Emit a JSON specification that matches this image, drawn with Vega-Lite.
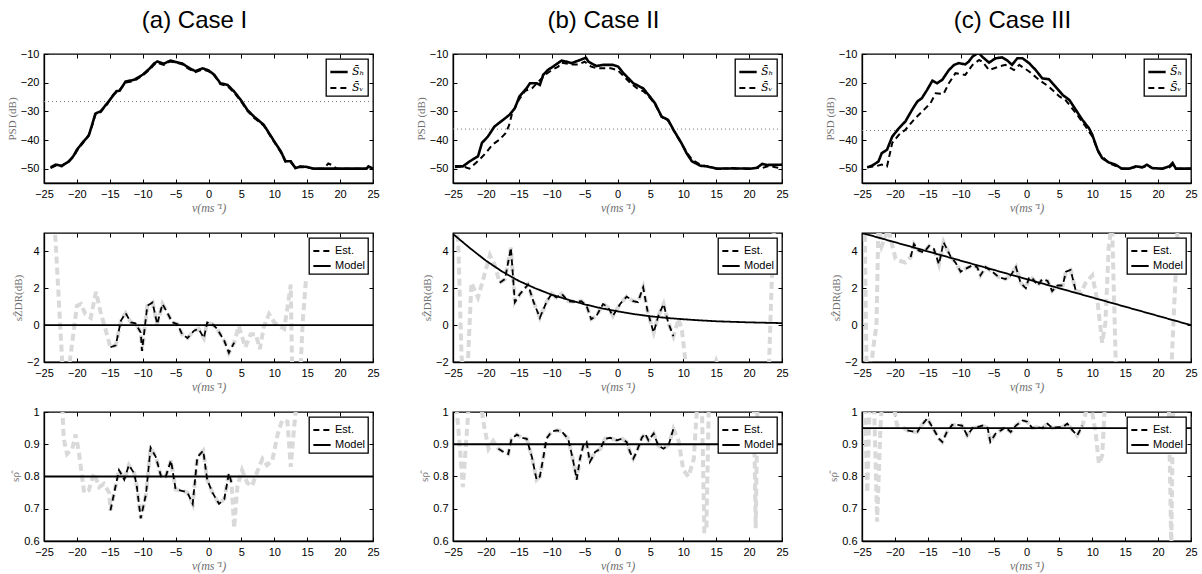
{
"$schema":"https://vega.github.io/schema/vega-lite/v6.json",
"background":"white",
"padding":{"left":5,"top":8,"right":5,"bottom":2},
"columns":3,
"spacing":{"row":50,"column":80},
"bounds":"flush",
"resolve":{"scale":{"strokeDash":"independent","strokeWidth":"independent"},"legend":{"strokeDash":"independent","strokeWidth":"independent"}},
"concat":[
{"width":329,"height":129,"title":{"text":"(a) Case I"},"data":{"name":"ta"},"resolve":{"axis":{"x":"independent","y":"independent"}},
"layer":[
{"transform":[{"filter":"datum.s=='T'"}],"mark":{"type":"rule","color":"#777","strokeWidth":1,"strokeDash":[1,3]},
"encoding":{"y":{"field":"y","type":"quantitative","scale":{"domain":[-55,-10],"nice":false,"zero":false},"axis":{"values":[-50,-40,-30,-20,-10],"title":"PSD (dB)"}}}},
{"transform":[{"filter":"datum.s!='T'"}],"mark":{"type":"line","clip":true,"color":"black"},
"encoding":{"x":{"field":"v","type":"quantitative","scale":{"domain":[-25,25],"nice":false,"zero":false},"axis":{"values":[-25,-20,-15,-10,-5,0,5,10,15,20,25],"title":"v(ms⁻¹)"}},
"y":{"field":"y","type":"quantitative","axis":null},
"strokeDash":{"field":"s","type":"nominal","scale":{"domain":["H","V"],"range":[[1,0],[6,4]]},"legend":{"title":null,"labelExpr":"datum.label=='H'?'S̄ₕ':'S̄ᵥ'","labelFont":"DejaVu Serif","labelFontStyle":"italic","labelFontSize":11}},
"strokeWidth":{"field":"s","type":"nominal","scale":{"domain":["H","V"],"range":[2.6,2]},"legend":null}}},
{"transform":[{"filter":"datum.s!='T'"}],"mark":{"type":"line","opacity":0},
"encoding":{"x":{"field":"v","type":"quantitative","axis":{"orient":"top","values":[-25,-20,-15,-10,-5,0,5,10,15,20,25],"labels":false,"domain":false,"title":null}},
"y":{"field":"y","type":"quantitative","axis":{"orient":"right","values":[-50,-40,-30,-20,-10],"labels":false,"domain":false,"title":null}}}}]},
{"width":329,"height":129,"title":{"text":"(b) Case II"},"data":{"name":"tb"},"resolve":{"axis":{"x":"independent","y":"independent"}},
"layer":[
{"transform":[{"filter":"datum.s=='T'"}],"mark":{"type":"rule","color":"#777","strokeWidth":1,"strokeDash":[1,3]},
"encoding":{"y":{"field":"y","type":"quantitative","scale":{"domain":[-55,-10],"nice":false,"zero":false},"axis":{"values":[-50,-40,-30,-20,-10],"title":"PSD (dB)"}}}},
{"transform":[{"filter":"datum.s!='T'"}],"mark":{"type":"line","clip":true,"color":"black"},
"encoding":{"x":{"field":"v","type":"quantitative","scale":{"domain":[-25,25],"nice":false,"zero":false},"axis":{"values":[-25,-20,-15,-10,-5,0,5,10,15,20,25],"title":"v(ms⁻¹)"}},
"y":{"field":"y","type":"quantitative","axis":null},
"strokeDash":{"field":"s","type":"nominal","scale":{"domain":["H","V"],"range":[[1,0],[6,4]]},"legend":{"title":null,"labelExpr":"datum.label=='H'?'S̄ₕ':'S̄ᵥ'","labelFont":"DejaVu Serif","labelFontStyle":"italic","labelFontSize":11}},
"strokeWidth":{"field":"s","type":"nominal","scale":{"domain":["H","V"],"range":[2.6,2]},"legend":null}}},
{"transform":[{"filter":"datum.s!='T'"}],"mark":{"type":"line","opacity":0},
"encoding":{"x":{"field":"v","type":"quantitative","axis":{"orient":"top","values":[-25,-20,-15,-10,-5,0,5,10,15,20,25],"labels":false,"domain":false,"title":null}},
"y":{"field":"y","type":"quantitative","axis":{"orient":"right","values":[-50,-40,-30,-20,-10],"labels":false,"domain":false,"title":null}}}}]},
{"width":329,"height":129,"title":{"text":"(c) Case III"},"data":{"name":"tc"},"resolve":{"axis":{"x":"independent","y":"independent"}},
"layer":[
{"transform":[{"filter":"datum.s=='T'"}],"mark":{"type":"rule","color":"#777","strokeWidth":1,"strokeDash":[1,3]},
"encoding":{"y":{"field":"y","type":"quantitative","scale":{"domain":[-55,-10],"nice":false,"zero":false},"axis":{"values":[-50,-40,-30,-20,-10],"title":"PSD (dB)"}}}},
{"transform":[{"filter":"datum.s!='T'"}],"mark":{"type":"line","clip":true,"color":"black"},
"encoding":{"x":{"field":"v","type":"quantitative","scale":{"domain":[-25,25],"nice":false,"zero":false},"axis":{"values":[-25,-20,-15,-10,-5,0,5,10,15,20,25],"title":"v(ms⁻¹)"}},
"y":{"field":"y","type":"quantitative","axis":null},
"strokeDash":{"field":"s","type":"nominal","scale":{"domain":["H","V"],"range":[[1,0],[6,4]]},"legend":{"title":null,"labelExpr":"datum.label=='H'?'S̄ₕ':'S̄ᵥ'","labelFont":"DejaVu Serif","labelFontStyle":"italic","labelFontSize":11}},
"strokeWidth":{"field":"s","type":"nominal","scale":{"domain":["H","V"],"range":[2.6,2]},"legend":null}}},
{"transform":[{"filter":"datum.s!='T'"}],"mark":{"type":"line","opacity":0},
"encoding":{"x":{"field":"v","type":"quantitative","axis":{"orient":"top","values":[-25,-20,-15,-10,-5,0,5,10,15,20,25],"labels":false,"domain":false,"title":null}},
"y":{"field":"y","type":"quantitative","axis":{"orient":"right","values":[-50,-40,-30,-20,-10],"labels":false,"domain":false,"title":null}}}}]},
{"width":329,"height":129,"data":{"name":"ma"},"resolve":{"axis":{"x":"independent","y":"independent"}},
"layer":[
{"transform":[{"filter":"datum.s!='M'"}],"mark":{"type":"line","clip":true,"color":"#d9d9d9","strokeWidth":4,"strokeDash":[7,4]},
"encoding":{"x":{"field":"v","type":"quantitative","scale":{"domain":[-25,25],"nice":false,"zero":false},"axis":{"values":[-25,-20,-15,-10,-5,0,5,10,15,20,25],"title":"v(ms⁻¹)"}},
"y":{"field":"y","type":"quantitative","scale":{"domain":[-2,5],"nice":false,"zero":false},"axis":{"values":[-2,0,2,4],"title":"sẐDR(dB)"}}}},
{"transform":[{"filter":"datum.s!='G'"}],"mark":{"type":"line","clip":true,"color":"black","strokeWidth":1.8},
"encoding":{"x":{"field":"v","type":"quantitative","axis":null},"y":{"field":"y","type":"quantitative","axis":null},
"strokeDash":{"field":"s","type":"nominal","scale":{"domain":["E","M"],"range":[[6,4],[1,0]]},"legend":{"title":null,"labelExpr":"datum.label=='E'?'Est.':'Model'"}}}},
{"transform":[{"filter":"datum.s!='G'"}],"mark":{"type":"line","opacity":0},
"encoding":{"x":{"field":"v","type":"quantitative","axis":{"orient":"top","values":[-25,-20,-15,-10,-5,0,5,10,15,20,25],"labels":false,"domain":false,"title":null}},
"y":{"field":"y","type":"quantitative","axis":{"orient":"right","values":[-2,0,2,4],"labels":false,"domain":false,"title":null}}}}]},
{"width":329,"height":129,"data":{"name":"mb"},"resolve":{"axis":{"x":"independent","y":"independent"}},
"layer":[
{"transform":[{"filter":"datum.s!='M'"}],"mark":{"type":"line","clip":true,"color":"#d9d9d9","strokeWidth":4,"strokeDash":[7,4]},
"encoding":{"x":{"field":"v","type":"quantitative","scale":{"domain":[-25,25],"nice":false,"zero":false},"axis":{"values":[-25,-20,-15,-10,-5,0,5,10,15,20,25],"title":"v(ms⁻¹)"}},
"y":{"field":"y","type":"quantitative","scale":{"domain":[-2,5],"nice":false,"zero":false},"axis":{"values":[-2,0,2,4],"title":"sẐDR(dB)"}}}},
{"transform":[{"filter":"datum.s!='G'"}],"mark":{"type":"line","clip":true,"color":"black","strokeWidth":1.8},
"encoding":{"x":{"field":"v","type":"quantitative","axis":null},"y":{"field":"y","type":"quantitative","axis":null},
"strokeDash":{"field":"s","type":"nominal","scale":{"domain":["E","M"],"range":[[6,4],[1,0]]},"legend":{"title":null,"labelExpr":"datum.label=='E'?'Est.':'Model'"}}}},
{"transform":[{"filter":"datum.s!='G'"}],"mark":{"type":"line","opacity":0},
"encoding":{"x":{"field":"v","type":"quantitative","axis":{"orient":"top","values":[-25,-20,-15,-10,-5,0,5,10,15,20,25],"labels":false,"domain":false,"title":null}},
"y":{"field":"y","type":"quantitative","axis":{"orient":"right","values":[-2,0,2,4],"labels":false,"domain":false,"title":null}}}}]},
{"width":329,"height":129,"data":{"name":"mc"},"resolve":{"axis":{"x":"independent","y":"independent"}},
"layer":[
{"transform":[{"filter":"datum.s!='M'"}],"mark":{"type":"line","clip":true,"color":"#d9d9d9","strokeWidth":4,"strokeDash":[7,4]},
"encoding":{"x":{"field":"v","type":"quantitative","scale":{"domain":[-25,25],"nice":false,"zero":false},"axis":{"values":[-25,-20,-15,-10,-5,0,5,10,15,20,25],"title":"v(ms⁻¹)"}},
"y":{"field":"y","type":"quantitative","scale":{"domain":[-2,5],"nice":false,"zero":false},"axis":{"values":[-2,0,2,4],"title":"sẐDR(dB)"}}}},
{"transform":[{"filter":"datum.s!='G'"}],"mark":{"type":"line","clip":true,"color":"black","strokeWidth":1.8},
"encoding":{"x":{"field":"v","type":"quantitative","axis":null},"y":{"field":"y","type":"quantitative","axis":null},
"strokeDash":{"field":"s","type":"nominal","scale":{"domain":["E","M"],"range":[[6,4],[1,0]]},"legend":{"title":null,"labelExpr":"datum.label=='E'?'Est.':'Model'"}}}},
{"transform":[{"filter":"datum.s!='G'"}],"mark":{"type":"line","opacity":0},
"encoding":{"x":{"field":"v","type":"quantitative","axis":{"orient":"top","values":[-25,-20,-15,-10,-5,0,5,10,15,20,25],"labels":false,"domain":false,"title":null}},
"y":{"field":"y","type":"quantitative","axis":{"orient":"right","values":[-2,0,2,4],"labels":false,"domain":false,"title":null}}}}]},
{"width":329,"height":129,"data":{"name":"ba"},"resolve":{"axis":{"x":"independent","y":"independent"}},
"layer":[
{"transform":[{"filter":"datum.s!='M'"}],"mark":{"type":"line","clip":true,"color":"#d9d9d9","strokeWidth":4,"strokeDash":[7,4]},
"encoding":{"x":{"field":"v","type":"quantitative","scale":{"domain":[-25,25],"nice":false,"zero":false},"axis":{"values":[-25,-20,-15,-10,-5,0,5,10,15,20,25],"title":"v(ms⁻¹)"}},
"y":{"field":"y","type":"quantitative","scale":{"domain":[0.6,1],"nice":false,"zero":false},"axis":{"values":[0.6,0.7,0.8,0.9,1],"format":"~g","title":"sρ̂"}}}},
{"transform":[{"filter":"datum.s!='G'"}],"mark":{"type":"line","clip":true,"color":"black","strokeWidth":1.8},
"encoding":{"x":{"field":"v","type":"quantitative","axis":null},"y":{"field":"y","type":"quantitative","axis":null},
"strokeDash":{"field":"s","type":"nominal","scale":{"domain":["E","M"],"range":[[6,4],[1,0]]},"legend":{"title":null,"labelExpr":"datum.label=='E'?'Est.':'Model'"}}}},
{"transform":[{"filter":"datum.s!='G'"}],"mark":{"type":"line","opacity":0},
"encoding":{"x":{"field":"v","type":"quantitative","axis":{"orient":"top","values":[-25,-20,-15,-10,-5,0,5,10,15,20,25],"labels":false,"domain":false,"title":null}},
"y":{"field":"y","type":"quantitative","axis":{"orient":"right","values":[0.6,0.7,0.8,0.9,1],"labels":false,"domain":false,"title":null}}}}]},
{"width":329,"height":129,"data":{"name":"bb"},"resolve":{"axis":{"x":"independent","y":"independent"}},
"layer":[
{"transform":[{"filter":"datum.s!='M'"}],"mark":{"type":"line","clip":true,"color":"#d9d9d9","strokeWidth":4,"strokeDash":[7,4]},
"encoding":{"x":{"field":"v","type":"quantitative","scale":{"domain":[-25,25],"nice":false,"zero":false},"axis":{"values":[-25,-20,-15,-10,-5,0,5,10,15,20,25],"title":"v(ms⁻¹)"}},
"y":{"field":"y","type":"quantitative","scale":{"domain":[0.6,1],"nice":false,"zero":false},"axis":{"values":[0.6,0.7,0.8,0.9,1],"format":"~g","title":"sρ̂"}}}},
{"transform":[{"filter":"datum.s!='G'"}],"mark":{"type":"line","clip":true,"color":"black","strokeWidth":1.8},
"encoding":{"x":{"field":"v","type":"quantitative","axis":null},"y":{"field":"y","type":"quantitative","axis":null},
"strokeDash":{"field":"s","type":"nominal","scale":{"domain":["E","M"],"range":[[6,4],[1,0]]},"legend":{"title":null,"labelExpr":"datum.label=='E'?'Est.':'Model'"}}}},
{"transform":[{"filter":"datum.s!='G'"}],"mark":{"type":"line","opacity":0},
"encoding":{"x":{"field":"v","type":"quantitative","axis":{"orient":"top","values":[-25,-20,-15,-10,-5,0,5,10,15,20,25],"labels":false,"domain":false,"title":null}},
"y":{"field":"y","type":"quantitative","axis":{"orient":"right","values":[0.6,0.7,0.8,0.9,1],"labels":false,"domain":false,"title":null}}}}]},
{"width":329,"height":129,"data":{"name":"bc"},"resolve":{"axis":{"x":"independent","y":"independent"}},
"layer":[
{"transform":[{"filter":"datum.s!='M'"}],"mark":{"type":"line","clip":true,"color":"#d9d9d9","strokeWidth":4,"strokeDash":[7,4]},
"encoding":{"x":{"field":"v","type":"quantitative","scale":{"domain":[-25,25],"nice":false,"zero":false},"axis":{"values":[-25,-20,-15,-10,-5,0,5,10,15,20,25],"title":"v(ms⁻¹)"}},
"y":{"field":"y","type":"quantitative","scale":{"domain":[0.6,1],"nice":false,"zero":false},"axis":{"values":[0.6,0.7,0.8,0.9,1],"format":"~g","title":"sρ̂"}}}},
{"transform":[{"filter":"datum.s!='G'"}],"mark":{"type":"line","clip":true,"color":"black","strokeWidth":1.8},
"encoding":{"x":{"field":"v","type":"quantitative","axis":null},"y":{"field":"y","type":"quantitative","axis":null},
"strokeDash":{"field":"s","type":"nominal","scale":{"domain":["E","M"],"range":[[6,4],[1,0]]},"legend":{"title":null,"labelExpr":"datum.label=='E'?'Est.':'Model'"}}}},
{"transform":[{"filter":"datum.s!='G'"}],"mark":{"type":"line","opacity":0},
"encoding":{"x":{"field":"v","type":"quantitative","axis":{"orient":"top","values":[-25,-20,-15,-10,-5,0,5,10,15,20,25],"labels":false,"domain":false,"title":null}},
"y":{"field":"y","type":"quantitative","axis":{"orient":"right","values":[0.6,0.7,0.8,0.9,1],"labels":false,"domain":false,"title":null}}}}]}
],
"datasets":{
"ta":[
{"s":"T","y":-26.6},
{"s":"H","v":-24,"y":-49.5},{"s":"H","v":-23.2,"y":-48.6},{"s":"H","v":-22.3,"y":-49},{"s":"H","v":-21.2,"y":-47.5},{"s":"H","v":-20.5,"y":-45.5},{"s":"H","v":-20,"y":-43.4},{"s":"H","v":-19,"y":-40.5},{"s":"H","v":-18.2,"y":-38.5},{"s":"H","v":-17.6,"y":-34},{"s":"H","v":-17.2,"y":-30.8},{"s":"H","v":-16.4,"y":-30},{"s":"H","v":-15.4,"y":-27.2},{"s":"H","v":-14.5,"y":-24.5},{"s":"H","v":-14,"y":-23},{"s":"H","v":-13.5,"y":-22.8},{"s":"H","v":-12.6,"y":-19.6},{"s":"H","v":-11.3,"y":-19},{"s":"H","v":-10,"y":-17.2},{"s":"H","v":-9,"y":-15.2},{"s":"H","v":-8.3,"y":-13.4},{"s":"H","v":-7.8,"y":-12.6},{"s":"H","v":-6.8,"y":-13.4},{"s":"H","v":-5.8,"y":-12.3},{"s":"H","v":-5,"y":-12.8},{"s":"H","v":-4,"y":-13.3},{"s":"H","v":-3,"y":-14.8},{"s":"H","v":-2,"y":-16},{"s":"H","v":-0.9,"y":-15},{"s":"H","v":0,"y":-15.7},{"s":"H","v":0.9,"y":-17.3},{"s":"H","v":1.8,"y":-20.2},{"s":"H","v":2.9,"y":-20.8},{"s":"H","v":3.9,"y":-23.1},{"s":"H","v":4.9,"y":-26},{"s":"H","v":5.9,"y":-29.5},{"s":"H","v":6.9,"y":-31.8},{"s":"H","v":8.4,"y":-34.7},{"s":"H","v":10,"y":-40.5},{"s":"H","v":11,"y":-44},{"s":"H","v":11.7,"y":-47.4},{"s":"H","v":12.5,"y":-47.4},{"s":"H","v":13.2,"y":-49.8},{"s":"H","v":14,"y":-49.2},{"s":"H","v":15,"y":-49.4},{"s":"H","v":16,"y":-50},{"s":"H","v":18,"y":-50},{"s":"H","v":20,"y":-50},{"s":"H","v":22,"y":-50},{"s":"H","v":24,"y":-50},{"s":"H","v":24.3,"y":-49.2},{"s":"H","v":25,"y":-50},
{"s":"V","v":-24,"y":-49.8},{"s":"V","v":-23.2,"y":-48.9},{"s":"V","v":-22.3,"y":-49.2},{"s":"V","v":-21.2,"y":-47.2},{"s":"V","v":-20.5,"y":-45.8},{"s":"V","v":-20,"y":-43.8},{"s":"V","v":-19,"y":-40.8},{"s":"V","v":-18.2,"y":-38.2},{"s":"V","v":-17.6,"y":-34.5},{"s":"V","v":-17.2,"y":-31.2},{"s":"V","v":-16.4,"y":-30.3},{"s":"V","v":-15.4,"y":-27.6},{"s":"V","v":-14.5,"y":-24.2},{"s":"V","v":-14,"y":-23.5},{"s":"V","v":-13.5,"y":-22.5},{"s":"V","v":-12.6,"y":-20},{"s":"V","v":-11.3,"y":-19.4},{"s":"V","v":-10,"y":-17.5},{"s":"V","v":-9,"y":-15.6},{"s":"V","v":-8.3,"y":-13.8},{"s":"V","v":-7.8,"y":-13},{"s":"V","v":-6.8,"y":-13.8},{"s":"V","v":-5.8,"y":-12.6},{"s":"V","v":-5,"y":-13},{"s":"V","v":-4,"y":-13.6},{"s":"V","v":-3,"y":-15.2},{"s":"V","v":-2,"y":-16.3},{"s":"V","v":-0.9,"y":-15.4},{"s":"V","v":0,"y":-16},{"s":"V","v":0.9,"y":-17.6},{"s":"V","v":1.8,"y":-20.5},{"s":"V","v":2.9,"y":-21.2},{"s":"V","v":3.9,"y":-23.5},{"s":"V","v":4.9,"y":-26.4},{"s":"V","v":5.9,"y":-29.8},{"s":"V","v":6.9,"y":-32.2},{"s":"V","v":8.4,"y":-35},{"s":"V","v":10,"y":-40.8},{"s":"V","v":11,"y":-44.3},{"s":"V","v":11.7,"y":-47.6},{"s":"V","v":12.5,"y":-47.8},{"s":"V","v":13.2,"y":-49.6},{"s":"V","v":14,"y":-49.4},{"s":"V","v":15,"y":-49.6},{"s":"V","v":16,"y":-50},{"s":"V","v":17.5,"y":-50},{"s":"V","v":18.2,"y":-48.2},{"s":"V","v":18.8,"y":-48.8},{"s":"V","v":19.5,"y":-50},{"s":"V","v":22,"y":-50},{"s":"V","v":24,"y":-50},{"s":"V","v":24.3,"y":-49.4},{"s":"V","v":25,"y":-50}
],
"tb":[
{"s":"T","y":-36.2},
{"s":"H","v":-24.7,"y":-49.2},{"s":"H","v":-23.5,"y":-49.2},{"s":"H","v":-22.5,"y":-47.5},{"s":"H","v":-21.2,"y":-45.7},{"s":"H","v":-20.6,"y":-41},{"s":"H","v":-19.7,"y":-38.8},{"s":"H","v":-18.7,"y":-35.3},{"s":"H","v":-17.4,"y":-33},{"s":"H","v":-16.4,"y":-31.2},{"s":"H","v":-15.6,"y":-28.9},{"s":"H","v":-14.9,"y":-24.8},{"s":"H","v":-13.8,"y":-21.9},{"s":"H","v":-13.3,"y":-20.2},{"s":"H","v":-12.3,"y":-20.2},{"s":"H","v":-11.8,"y":-20.8},{"s":"H","v":-11.3,"y":-17.3},{"s":"H","v":-10.6,"y":-15.6},{"s":"H","v":-9.8,"y":-14.4},{"s":"H","v":-8.5,"y":-12.3},{"s":"H","v":-7.7,"y":-12.7},{"s":"H","v":-7,"y":-13.2},{"s":"H","v":-5.7,"y":-12.1},{"s":"H","v":-4.8,"y":-11.3},{"s":"H","v":-4.4,"y":-12.7},{"s":"H","v":-3.2,"y":-14.2},{"s":"H","v":-2.2,"y":-13.8},{"s":"H","v":-0.7,"y":-13.8},{"s":"H","v":0.1,"y":-14.4},{"s":"H","v":0.9,"y":-16.7},{"s":"H","v":2.4,"y":-20.2},{"s":"H","v":3.9,"y":-22},{"s":"H","v":4.9,"y":-24.8},{"s":"H","v":5.7,"y":-27.2},{"s":"H","v":6.7,"y":-31.8},{"s":"H","v":7.7,"y":-33},{"s":"H","v":8.5,"y":-36.4},{"s":"H","v":9.7,"y":-41},{"s":"H","v":10.5,"y":-44.6},{"s":"H","v":11.3,"y":-47.4},{"s":"H","v":12.6,"y":-49},{"s":"H","v":13.6,"y":-49.2},{"s":"H","v":15.1,"y":-50},{"s":"H","v":17.6,"y":-49.9},{"s":"H","v":20.2,"y":-50},{"s":"H","v":21.2,"y":-49.7},{"s":"H","v":22,"y":-48.3},{"s":"H","v":22.7,"y":-48.7},{"s":"H","v":25,"y":-48.6},
{"s":"V","v":-24.7,"y":-49.5},{"s":"V","v":-23.5,"y":-49.2},{"s":"V","v":-22.5,"y":-50},{"s":"V","v":-21,"y":-46.9},{"s":"V","v":-20,"y":-44.5},{"s":"V","v":-19,"y":-41.6},{"s":"V","v":-18,"y":-40},{"s":"V","v":-17,"y":-37.6},{"s":"V","v":-16.5,"y":-35},{"s":"V","v":-16,"y":-30.6},{"s":"V","v":-15,"y":-26},{"s":"V","v":-14,"y":-22.8},{"s":"V","v":-13,"y":-22},{"s":"V","v":-12,"y":-19.6},{"s":"V","v":-11,"y":-17.3},{"s":"V","v":-10,"y":-15.6},{"s":"V","v":-9,"y":-14.4},{"s":"V","v":-8.5,"y":-13},{"s":"V","v":-7,"y":-13.7},{"s":"V","v":-6,"y":-13.7},{"s":"V","v":-5,"y":-12.7},{"s":"V","v":-4,"y":-14.4},{"s":"V","v":-3,"y":-15},{"s":"V","v":-2,"y":-15},{"s":"V","v":-1,"y":-15},{"s":"V","v":0,"y":-15.6},{"s":"V","v":1,"y":-17.9},{"s":"V","v":2,"y":-20.2},{"s":"V","v":3,"y":-22},{"s":"V","v":4,"y":-23.1},{"s":"V","v":5,"y":-25.5},{"s":"V","v":5.7,"y":-27.5},{"s":"V","v":6.7,"y":-32},{"s":"V","v":7.7,"y":-33.3},{"s":"V","v":8.5,"y":-36.6},{"s":"V","v":9.7,"y":-41.2},{"s":"V","v":10.5,"y":-44.2},{"s":"V","v":11.3,"y":-46.8},{"s":"V","v":12.6,"y":-48.6},{"s":"V","v":13.6,"y":-49.2},{"s":"V","v":15.1,"y":-50},{"s":"V","v":17.6,"y":-49.9},{"s":"V","v":20.2,"y":-50},{"s":"V","v":21.2,"y":-49.7},{"s":"V","v":22,"y":-49.8},{"s":"V","v":23,"y":-49},{"s":"V","v":24,"y":-49.5},{"s":"V","v":25,"y":-50}
],
"tc":[
{"s":"T","y":-36.7},
{"s":"H","v":-24.2,"y":-49.5},{"s":"H","v":-23.5,"y":-49},{"s":"H","v":-22.5,"y":-47.5},{"s":"H","v":-22,"y":-44.6},{"s":"H","v":-21.2,"y":-43.4},{"s":"H","v":-20.4,"y":-38.8},{"s":"H","v":-19.4,"y":-35.9},{"s":"H","v":-18.4,"y":-33.5},{"s":"H","v":-17.4,"y":-29.5},{"s":"H","v":-16.6,"y":-26.6},{"s":"H","v":-15.9,"y":-25.4},{"s":"H","v":-15.1,"y":-22.5},{"s":"H","v":-14.3,"y":-19.3},{"s":"H","v":-13.6,"y":-20.2},{"s":"H","v":-12.8,"y":-19},{"s":"H","v":-11.8,"y":-15.6},{"s":"H","v":-11,"y":-13.8},{"s":"H","v":-10.3,"y":-13.2},{"s":"H","v":-9.3,"y":-13.6},{"s":"H","v":-8.8,"y":-12.7},{"s":"H","v":-8.2,"y":-10.9},{"s":"H","v":-7.3,"y":-9.5},{"s":"H","v":-6.7,"y":-11},{"s":"H","v":-5.7,"y":-13},{"s":"H","v":-4.7,"y":-11.5},{"s":"H","v":-3.7,"y":-11.2},{"s":"H","v":-2.9,"y":-12.3},{"s":"H","v":-2.2,"y":-13.8},{"s":"H","v":-1.4,"y":-11.5},{"s":"H","v":-0.6,"y":-11.5},{"s":"H","v":0.4,"y":-13.2},{"s":"H","v":1.4,"y":-15.6},{"s":"H","v":2.4,"y":-18.5},{"s":"H","v":3.4,"y":-18.8},{"s":"H","v":4.4,"y":-21.4},{"s":"H","v":5.5,"y":-24.3},{"s":"H","v":6.5,"y":-26},{"s":"H","v":7.5,"y":-29.5},{"s":"H","v":8.5,"y":-33},{"s":"H","v":9.5,"y":-35.9},{"s":"H","v":10,"y":-38.2},{"s":"H","v":10.8,"y":-43.4},{"s":"H","v":11.5,"y":-46.3},{"s":"H","v":12.5,"y":-47.8},{"s":"H","v":13.5,"y":-48.6},{"s":"H","v":14.5,"y":-50},{"s":"H","v":15.6,"y":-50},{"s":"H","v":16.6,"y":-49.2},{"s":"H","v":17.6,"y":-49.5},{"s":"H","v":18.3,"y":-48.6},{"s":"H","v":19.1,"y":-49.8},{"s":"H","v":20.6,"y":-50},{"s":"H","v":21.7,"y":-49.2},{"s":"H","v":22.2,"y":-48},{"s":"H","v":22.7,"y":-50},{"s":"H","v":25,"y":-50},
{"s":"V","v":-24.2,"y":-49.5},{"s":"V","v":-23,"y":-49.2},{"s":"V","v":-22,"y":-48.6},{"s":"V","v":-21.2,"y":-49.2},{"s":"V","v":-20.4,"y":-41},{"s":"V","v":-19.4,"y":-38.2},{"s":"V","v":-18.4,"y":-36.4},{"s":"V","v":-16.9,"y":-32.4},{"s":"V","v":-15.6,"y":-29.5},{"s":"V","v":-14.6,"y":-27.2},{"s":"V","v":-13.8,"y":-23.7},{"s":"V","v":-12.6,"y":-23.9},{"s":"V","v":-11.8,"y":-20.2},{"s":"V","v":-10.8,"y":-16.7},{"s":"V","v":-9.3,"y":-17.3},{"s":"V","v":-8.2,"y":-13.8},{"s":"V","v":-7.2,"y":-12.1},{"s":"V","v":-6.7,"y":-12.7},{"s":"V","v":-5.7,"y":-15.6},{"s":"V","v":-4.2,"y":-14.4},{"s":"V","v":-3.2,"y":-13.8},{"s":"V","v":-1.9,"y":-15.6},{"s":"V","v":-1.1,"y":-13.8},{"s":"V","v":0.4,"y":-16.1},{"s":"V","v":1.9,"y":-19},{"s":"V","v":3.4,"y":-21.4},{"s":"V","v":5,"y":-24.8},{"s":"V","v":5.9,"y":-26},{"s":"V","v":7.5,"y":-30.6},{"s":"V","v":8.8,"y":-34.7},{"s":"V","v":10,"y":-38.8},{"s":"V","v":11,"y":-44.6},{"s":"V","v":12.5,"y":-48},{"s":"V","v":13.5,"y":-49},{"s":"V","v":14.5,"y":-50},{"s":"V","v":15.6,"y":-50},{"s":"V","v":16.6,"y":-49.4},{"s":"V","v":17.6,"y":-49.6},{"s":"V","v":18.3,"y":-49},{"s":"V","v":19.1,"y":-49.8},{"s":"V","v":20.6,"y":-50},{"s":"V","v":21.7,"y":-49.6},{"s":"V","v":22.2,"y":-48.6},{"s":"V","v":22.7,"y":-50},{"s":"V","v":25,"y":-50}
],
"ma":[
{"s":"G","v":-23.4,"y":5.5},{"s":"G","v":-23.2,"y":4.3},{"s":"G","v":-22.2,"y":-2.2},{"s":"G","v":-21.2,"y":-2.3},{"s":"G","v":-20,"y":1.05},{"s":"G","v":-19.4,"y":1.15},{"s":"G","v":-18.7,"y":0.6},{"s":"G","v":-17.9,"y":0.4},{"s":"G","v":-17.1,"y":1.8},{"s":"G","v":-16.4,"y":0.7},{"s":"G","v":-15.6,"y":-0.3},
{"s":"E","v":-14.9,"y":-1.2},{"s":"E","v":-14.1,"y":-1.1},{"s":"E","v":-13.3,"y":0.25},{"s":"E","v":-12.6,"y":0.65},{"s":"E","v":-11.8,"y":0.15},{"s":"E","v":-11.1,"y":0.1},{"s":"E","v":-10.3,"y":-0.4},{"s":"E","v":-10.1,"y":-1.4},{"s":"E","v":-9.3,"y":1.05},{"s":"E","v":-8.5,"y":1.23},{"s":"E","v":-7.8,"y":0.05},{"s":"E","v":-7,"y":1.15},{"s":"E","v":-6.3,"y":0.7},{"s":"E","v":-5.5,"y":0.15},{"s":"E","v":-4.7,"y":0.05},{"s":"E","v":-4,"y":-0.5},{"s":"E","v":-3.2,"y":-0.7},{"s":"E","v":-2.2,"y":-0.3},{"s":"E","v":-1.5,"y":-0.2},{"s":"E","v":-0.7,"y":-0.7},{"s":"E","v":-0.2,"y":0.15},{"s":"E","v":0.6,"y":0.05},{"s":"E","v":1.3,"y":-0.2},{"s":"E","v":2.4,"y":-0.85},{"s":"E","v":3.1,"y":-1.5},{"s":"E","v":3.9,"y":-0.95},
{"s":"G","v":4.6,"y":-0.05},{"s":"G","v":5.6,"y":-1.2},{"s":"G","v":6.4,"y":-0.5},{"s":"G","v":7.2,"y":-0.5},{"s":"G","v":7.8,"y":-1.3},{"s":"G","v":8.4,"y":-0.1},{"s":"G","v":9.2,"y":0.6},{"s":"G","v":10,"y":0.15},{"s":"G","v":10.7,"y":-0.05},{"s":"G","v":11.5,"y":-0.2},{"s":"G","v":12,"y":0.95},{"s":"G","v":12.5,"y":2.2},{"s":"G","v":12.7,"y":-2.3},{"s":"G","v":14,"y":-2.3},{"s":"G","v":14.3,"y":0.1},{"s":"G","v":14.8,"y":2.4},
{"s":"M","v":-25,"y":0},{"s":"M","v":25,"y":0}
],
"mb":[
{"s":"G","v":-24.6,"y":5.5},{"s":"G","v":-24.2,"y":4.5},{"s":"G","v":-23.7,"y":-1.7},{"s":"G","v":-23.4,"y":-2.5},{"s":"G","v":-22.8,"y":-2.5},{"s":"G","v":-22.2,"y":2.3},{"s":"G","v":-21.2,"y":1.5},{"s":"G","v":-20.4,"y":2.5},{"s":"G","v":-19.4,"y":3.8},{"s":"G","v":-18.7,"y":3.3},
{"s":"E","v":-17.9,"y":2.3},{"s":"E","v":-17.1,"y":2.5},{"s":"E","v":-16.2,"y":4.2},{"s":"E","v":-15.6,"y":1.25},{"s":"E","v":-14.8,"y":1.7},{"s":"E","v":-13.6,"y":2.2},{"s":"E","v":-12.8,"y":1.3},{"s":"E","v":-11.8,"y":0.4},{"s":"E","v":-10.8,"y":1.25},{"s":"E","v":-10,"y":1.7},{"s":"E","v":-9.3,"y":1.5},{"s":"E","v":-8.5,"y":1.7},{"s":"E","v":-7.5,"y":1.3},{"s":"E","v":-6.5,"y":1.27},{"s":"E","v":-5.5,"y":1.3},{"s":"E","v":-4.7,"y":1.05},{"s":"E","v":-4,"y":0.33},{"s":"E","v":-3.2,"y":0.5},{"s":"E","v":-2.2,"y":1.15},{"s":"E","v":-1.4,"y":0.95},{"s":"E","v":-0.7,"y":0.5},{"s":"E","v":0.4,"y":1.15},{"s":"E","v":1.4,"y":1.55},{"s":"E","v":2.4,"y":1.3},{"s":"E","v":3.1,"y":1.25},{"s":"E","v":3.9,"y":2.05},{"s":"E","v":4.6,"y":0.7},{"s":"E","v":5.5,"y":-0.4},{"s":"E","v":6.2,"y":0.5},{"s":"E","v":7,"y":1.15},{"s":"E","v":7.7,"y":0.15},{"s":"E","v":8.5,"y":-0.6},
{"s":"G","v":9.3,"y":0.35},{"s":"G","v":9.8,"y":-0.3},{"s":"G","v":10.3,"y":-1.9},{"s":"G","v":10.6,"y":-2.5},{"s":"G","v":14.5,"y":-2.5},{"s":"G","v":15,"y":-1.95},{"s":"G","v":15.5,"y":-2.5},{"s":"G","v":23,"y":-2.5},{"s":"G","v":23.2,"y":-0.2},{"s":"G","v":23.5,"y":3},{"s":"G","v":23.8,"y":5.5},{"s":"G","v":25,"y":6},
{"s":"M","v":-25,"y":4.95},{"s":"M","v":-22.5,"y":4.2},{"s":"M","v":-20,"y":3.5},{"s":"M","v":-17.5,"y":2.9},{"s":"M","v":-15,"y":2.4},{"s":"M","v":-12.5,"y":2.0},{"s":"M","v":-10,"y":1.65},{"s":"M","v":-7.5,"y":1.38},{"s":"M","v":-5,"y":1.13},{"s":"M","v":-2.5,"y":0.92},{"s":"M","v":0,"y":0.75},{"s":"M","v":2.5,"y":0.6},{"s":"M","v":5,"y":0.48},{"s":"M","v":7.5,"y":0.39},{"s":"M","v":10,"y":0.32},{"s":"M","v":12.5,"y":0.26},{"s":"M","v":15,"y":0.21},{"s":"M","v":17.5,"y":0.18},{"s":"M","v":20,"y":0.15},{"s":"M","v":22.5,"y":0.13},{"s":"M","v":25,"y":0.11}
],
"mc":[
{"s":"G","v":-24.6,"y":5.5},{"s":"G","v":-24.3,"y":-2.5},{"s":"G","v":-23.7,"y":-2.5},{"s":"G","v":-23.2,"y":-1},{"s":"G","v":-22.8,"y":0},{"s":"G","v":-22.5,"y":5.5},{"s":"G","v":-22,"y":4.3},{"s":"G","v":-21,"y":5.2},{"s":"G","v":-19.9,"y":3.6},{"s":"G","v":-19.4,"y":3.5},{"s":"G","v":-18.4,"y":3.4},
{"s":"E","v":-17.6,"y":3.7},{"s":"E","v":-17.1,"y":4.4},{"s":"E","v":-16.4,"y":4.05},{"s":"E","v":-15.6,"y":3.95},{"s":"E","v":-14.8,"y":4.3},{"s":"E","v":-14.1,"y":4.15},{"s":"E","v":-13.3,"y":3.3},{"s":"E","v":-12.6,"y":4.5},{"s":"E","v":-11.5,"y":3.7},{"s":"E","v":-10.8,"y":3.4},{"s":"E","v":-10,"y":2.9},{"s":"E","v":-9.3,"y":3.05},{"s":"E","v":-8.2,"y":3.25},{"s":"E","v":-7.5,"y":3.15},{"s":"E","v":-7,"y":2.7},{"s":"E","v":-6.2,"y":3.15},{"s":"E","v":-5.2,"y":2.9},{"s":"E","v":-4.2,"y":2.6},{"s":"E","v":-3.2,"y":2.5},{"s":"E","v":-2.4,"y":2.7},{"s":"E","v":-1.6,"y":3.15},{"s":"E","v":-0.9,"y":2.3},{"s":"E","v":-0.1,"y":2.0},{"s":"E","v":0.4,"y":2.6},{"s":"E","v":0.9,"y":2.55},{"s":"E","v":1.7,"y":2.15},{"s":"E","v":2.4,"y":2.5},{"s":"E","v":3.2,"y":2.4},{"s":"E","v":3.9,"y":1.85},{"s":"E","v":4.7,"y":2.15},{"s":"E","v":5.5,"y":2.15},{"s":"E","v":6,"y":2.9},{"s":"E","v":6.7,"y":3.0},{"s":"E","v":7.5,"y":1.85},
{"s":"G","v":8.3,"y":1.8},{"s":"G","v":9,"y":2.3},{"s":"G","v":10,"y":2.7},{"s":"G","v":10.8,"y":1.25},{"s":"G","v":11.5,"y":-0.95},{"s":"G","v":12,"y":0.15},{"s":"G","v":12.5,"y":4.3},{"s":"G","v":13,"y":5.5},{"s":"G","v":13.6,"y":-2.5},{"s":"G","v":14,"y":-2.5},{"s":"G","v":22,"y":-2.5},{"s":"G","v":22.7,"y":3},{"s":"G","v":23,"y":5.5},{"s":"G","v":25,"y":6},
{"s":"M","v":-25,"y":5},{"s":"M","v":25,"y":0}
],
"ba":[
{"s":"G","v":-22.3,"y":1.05},{"s":"G","v":-22,"y":0.917},{"s":"G","v":-21.5,"y":0.87},{"s":"G","v":-20.7,"y":0.886},{"s":"G","v":-20.2,"y":0.93},{"s":"G","v":-19.7,"y":0.876},{"s":"G","v":-18.9,"y":0.75},{"s":"G","v":-18.2,"y":0.757},{"s":"G","v":-17.4,"y":0.81},{"s":"G","v":-16.6,"y":0.767},{"s":"G","v":-15.9,"y":0.777},{"s":"G","v":-15.1,"y":0.75},
{"s":"E","v":-14.9,"y":0.695},{"s":"E","v":-13.6,"y":0.82},{"s":"E","v":-12.8,"y":0.79},{"s":"E","v":-12.1,"y":0.835},{"s":"E","v":-11.3,"y":0.81},{"s":"E","v":-10.9,"y":0.77},{"s":"E","v":-10.3,"y":0.67},{"s":"E","v":-9.5,"y":0.745},{"s":"E","v":-8.8,"y":0.89},{"s":"E","v":-8,"y":0.86},{"s":"E","v":-7.2,"y":0.8},{"s":"E","v":-6.5,"y":0.8},{"s":"E","v":-5.7,"y":0.85},{"s":"E","v":-5,"y":0.76},{"s":"E","v":-3.9,"y":0.755},{"s":"E","v":-3.2,"y":0.75},{"s":"E","v":-2.4,"y":0.715},{"s":"E","v":-1.7,"y":0.86},{"s":"E","v":-0.8,"y":0.88},{"s":"E","v":-0.2,"y":0.79},{"s":"E","v":0.6,"y":0.75},{"s":"E","v":1.6,"y":0.715},{"s":"E","v":2.4,"y":0.73},{"s":"E","v":3.1,"y":0.81},{"s":"E","v":3.5,"y":0.78},
{"s":"G","v":3.9,"y":0.64},{"s":"G","v":4.4,"y":0.77},{"s":"G","v":5.1,"y":0.82},{"s":"G","v":5.9,"y":0.78},{"s":"G","v":6.6,"y":0.77},{"s":"G","v":7.4,"y":0.815},{"s":"G","v":8.2,"y":0.855},{"s":"G","v":8.9,"y":0.835},{"s":"G","v":9.7,"y":0.85},{"s":"G","v":10.5,"y":0.93},{"s":"G","v":11.2,"y":0.975},{"s":"G","v":12,"y":0.97},{"s":"G","v":12.5,"y":0.83},{"s":"G","v":13,"y":0.95},{"s":"G","v":13.5,"y":1.05},
{"s":"M","v":-25,"y":0.8},{"s":"M","v":25,"y":0.8}
],
"bb":[
{"s":"G","v":-24.6,"y":1.05},{"s":"G","v":-24.2,"y":0.95},{"s":"G","v":-23.9,"y":0.876},{"s":"G","v":-23.5,"y":0.767},{"s":"G","v":-22.5,"y":1.05},{"s":"G","v":-20.9,"y":1.05},{"s":"G","v":-20.4,"y":0.97},{"s":"G","v":-19.6,"y":0.886},{"s":"G","v":-18.9,"y":0.91},
{"s":"E","v":-18.1,"y":0.886},{"s":"E","v":-17.3,"y":0.876},{"s":"E","v":-16.6,"y":0.87},{"s":"E","v":-16.1,"y":0.917},{"s":"E","v":-15.3,"y":0.93},{"s":"E","v":-14.6,"y":0.92},{"s":"E","v":-13.8,"y":0.917},{"s":"E","v":-13,"y":0.86},{"s":"E","v":-12.3,"y":0.79},{"s":"E","v":-11.8,"y":0.8},{"s":"E","v":-11.3,"y":0.855},{"s":"E","v":-10.8,"y":0.917},{"s":"E","v":-10,"y":0.94},{"s":"E","v":-9.2,"y":0.943},{"s":"E","v":-8.5,"y":0.94},{"s":"E","v":-7.5,"y":0.917},{"s":"E","v":-6.8,"y":0.855},{"s":"E","v":-6.2,"y":0.79},{"s":"E","v":-5.7,"y":0.855},{"s":"E","v":-5.2,"y":0.896},{"s":"E","v":-4.7,"y":0.907},{"s":"E","v":-4.2,"y":0.845},{"s":"E","v":-3.4,"y":0.876},{"s":"E","v":-2.6,"y":0.886},{"s":"E","v":-1.9,"y":0.917},{"s":"E","v":-1.1,"y":0.92},{"s":"E","v":-0.1,"y":0.912},{"s":"E","v":0.7,"y":0.917},{"s":"E","v":1.4,"y":0.907},{"s":"E","v":1.9,"y":0.876},{"s":"E","v":2.4,"y":0.855},{"s":"E","v":2.9,"y":0.876},{"s":"E","v":3.7,"y":0.92},{"s":"E","v":4.2,"y":0.933},{"s":"E","v":4.7,"y":0.912},{"s":"E","v":5.5,"y":0.933},{"s":"E","v":6.2,"y":0.896},{"s":"E","v":7,"y":0.886},{"s":"E","v":7.8,"y":0.9},{"s":"E","v":8.5,"y":0.948},
{"s":"G","v":9.3,"y":0.91},{"s":"G","v":10,"y":0.82},{"s":"G","v":10.8,"y":0.8},{"s":"G","v":11.6,"y":0.855},{"s":"G","v":12.1,"y":1.02},{"s":"G","v":12.8,"y":1.05},{"s":"G","v":13.2,"y":0.63},{"s":"G","v":13.5,"y":0.63},{"s":"G","v":13.9,"y":1.05},{"s":"G","v":20.7,"y":1.05},{"s":"G","v":21,"y":0.64},{"s":"G","v":21.3,"y":1.05},{"s":"G","v":25,"y":1.05},
{"s":"M","v":-25,"y":0.9},{"s":"M","v":25,"y":0.9}
],
"bc":[
{"s":"G","v":-24.6,"y":1.05},{"s":"G","v":-24.2,"y":0.75},{"s":"G","v":-23.8,"y":1.05},{"s":"G","v":-23.2,"y":1.05},{"s":"G","v":-22.7,"y":0.66},{"s":"G","v":-22.2,"y":0.95},{"s":"G","v":-21.9,"y":1.05},{"s":"G","v":-20.4,"y":1.05},{"s":"G","v":-19.7,"y":0.96},{"s":"G","v":-18.9,"y":0.953},
{"s":"E","v":-18.1,"y":0.943},{"s":"E","v":-17.4,"y":0.94},{"s":"E","v":-16.6,"y":0.938},{"s":"E","v":-15.9,"y":0.96},{"s":"E","v":-15.1,"y":0.98},{"s":"E","v":-14.3,"y":0.953},{"s":"E","v":-13.3,"y":0.917},{"s":"E","v":-12.8,"y":0.907},{"s":"E","v":-12.1,"y":0.938},{"s":"E","v":-11.3,"y":0.96},{"s":"E","v":-10.5,"y":0.96},{"s":"E","v":-9.8,"y":0.958},{"s":"E","v":-9,"y":0.927},{"s":"E","v":-8.2,"y":0.95},{"s":"E","v":-7.5,"y":0.953},{"s":"E","v":-6.7,"y":0.958},{"s":"E","v":-5.9,"y":0.95},{"s":"E","v":-5.5,"y":0.907},{"s":"E","v":-4.7,"y":0.933},{"s":"E","v":-3.9,"y":0.943},{"s":"E","v":-3.2,"y":0.953},{"s":"E","v":-2.4,"y":0.938},{"s":"E","v":-1.6,"y":0.958},{"s":"E","v":-0.6,"y":0.974},{"s":"E","v":0.1,"y":0.97},{"s":"E","v":0.9,"y":0.95},{"s":"E","v":1.6,"y":0.953},{"s":"E","v":2.4,"y":0.95},{"s":"E","v":3.2,"y":0.964},{"s":"E","v":3.9,"y":0.95},{"s":"E","v":4.7,"y":0.953},{"s":"E","v":5.5,"y":0.953},{"s":"E","v":6.2,"y":0.964},{"s":"E","v":7,"y":0.943},{"s":"E","v":7.7,"y":0.927},{"s":"E","v":8.5,"y":0.958},
{"s":"G","v":9.3,"y":1.02},{"s":"G","v":9.8,"y":1.02},{"s":"G","v":10.5,"y":0.938},{"s":"G","v":11,"y":0.84},{"s":"G","v":11.5,"y":0.865},{"s":"G","v":12,"y":1.05},{"s":"G","v":21.6,"y":1.05},{"s":"G","v":22,"y":0.58},{"s":"G","v":22.3,"y":1.05},{"s":"G","v":25,"y":1.05},
{"s":"M","v":-25,"y":0.95},{"s":"M","v":25,"y":0.95}
]
},
"config":{
"font":"Liberation Sans",
"view":{"stroke":"black","strokeWidth":1.3},
"axis":{"grid":false,"domainColor":"black","domainWidth":1.3,"tickColor":"black","tickSize":-4,"tickWidth":1,"labelFont":"Liberation Sans","labelFontSize":11,"labelColor":"black","labelFlush":false,"labelOverlap":false,"titleFont":"Liberation Serif","titleFontWeight":"normal","titleColor":"#707070","titleFontSize":11},
"axisX":{"labelPadding":9,"titlePadding":3,"titleFontStyle":"italic","titleFontSize":12},
"axisY":{"labelPadding":9,"titlePadding":3},
"legend":{"orient":"top-right","offset":5,"strokeColor":"black","strokeWidth":1.3,"fillColor":"white","padding":3,"symbolType":"stroke","symbolStrokeWidth":2,"symbolStrokeColor":"black","symbolSize":300,"labelFontSize":11,"labelFont":"Liberation Sans","rowPadding":0,"labelOffset":3},
"title":{"fontSize":24,"font":"Liberation Sans","fontWeight":"normal","offset":15,"dx":-14,"anchor":"middle","color":"black"}
}
}
